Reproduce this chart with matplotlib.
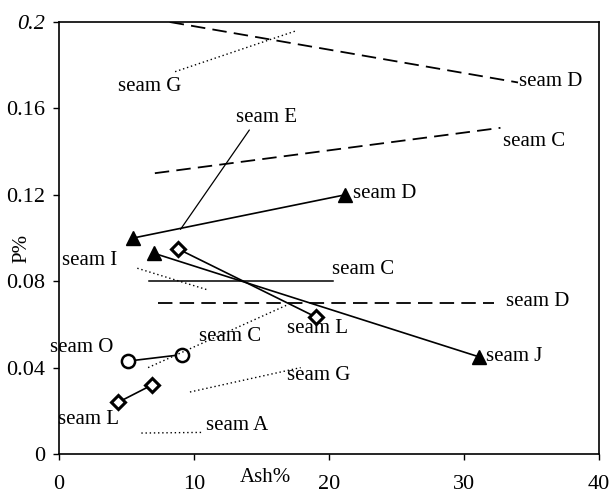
import matplotlib
matplotlib.use("Agg")
import matplotlib.pyplot as plt

plt.rcParams['font.family'] = ['Liberation Serif', 'DejaVu Serif']
plt.rcParams['font.size'] = 15

# seams measured with markers (Ash%, P%)
seam_d_ash = [5.5, 21.2]
seam_d_p = [0.100, 0.120]
seam_j_ash = [7.0, 31.1]
seam_j_p = [0.093, 0.045]
seam_l_ash = [8.8, 19.0]
seam_l_p = [0.095, 0.0635]
seam_o_ash = [5.1, 9.1]
seam_o_p = [0.043, 0.046]
seam_l2_ash = [4.4, 6.9]
seam_l2_p = [0.024, 0.032]

# trend lines without markers
c_solid_ash = [6.7, 20.3]
c_solid_p = [0.080, 0.080]
d_dash_ash = [7.3, 32.2]
d_dash_p = [0.070, 0.070]
c_dash_ash = [7.1, 32.7]
c_dash_p = [0.130, 0.151]
d_top_ash = [8.2, 34.0]
d_top_p = [0.200, 0.172]
g_top_ash = [8.6, 17.6]
g_top_p = [0.177, 0.196]
i_dot_ash = [5.8, 11.0]
i_dot_p = [0.086, 0.076]
c_dot_ash = [6.6, 16.9]
c_dot_p = [0.040, 0.069]
g_dot_ash = [9.7, 17.9]
g_dot_p = [0.0287, 0.040]
a_dot_ash = [6.1, 10.7]
a_dot_p = [0.0097, 0.010]

fig = plt.figure(figsize=(6.12, 4.94), dpi=100)
ax = fig.add_axes([59 / 612, 1 - 454 / 494, 540 / 612, 432 / 494])

dash = (0, (8, 4))
dot = (0, (1, 2))
k = 'black'

ax.plot(seam_d_ash, seam_d_p, color=k, lw=1.2, marker='^', ms=10, mfc=k)
ax.plot(seam_j_ash, seam_j_p, color=k, lw=1.2, marker='^', ms=10, mfc=k)
ax.plot(seam_l_ash, seam_l_p, color=k, lw=1.2, marker='D', ms=7, mfc='white', mew=2.2)
ax.plot(seam_o_ash, seam_o_p, color=k, lw=1.2, marker='o', ms=9.5, mfc='white', mew=1.8)
ax.plot(seam_l2_ash, seam_l2_p, color=k, lw=1.2, marker='D', ms=7, mfc='white', mew=2.2)

ax.plot(c_solid_ash, c_solid_p, color=k, lw=1.1)
ax.plot(d_dash_ash, d_dash_p, color=k, lw=1.3, linestyle=dash)
ax.plot(c_dash_ash, c_dash_p, color=k, lw=1.3, linestyle=dash)
ax.plot(d_top_ash, d_top_p, color=k, lw=1.3, linestyle=dash)
for xs, ys in [(g_top_ash, g_top_p), (i_dot_ash, i_dot_p), (c_dot_ash, c_dot_p),
               (g_dot_ash, g_dot_p), (a_dot_ash, a_dot_p)]:
    ax.plot(xs, ys, color=k, lw=1.0, linestyle=dot)

# seam labels
lab = dict(ha='left', va='center', fontsize=15)
ax.text(34.1, 0.1725, 'seam D', **lab)
ax.text(32.9, 0.1445, 'seam C', **lab)
ax.text(21.8, 0.1205, 'seam D', **lab)
ax.text(20.2, 0.0855, 'seam C', **lab)
ax.text(33.1, 0.0705, 'seam D', **lab)
ax.text(16.9, 0.058, 'seam L', **lab)
ax.text(31.6, 0.045, 'seam J', **lab)
ax.text(16.9, 0.0365, 'seam G', **lab)
ax.text(10.4, 0.0545, 'seam C', **lab)
ax.text(-0.7, 0.0495, 'seam O', **lab)
ax.text(-0.1, 0.0158, 'seam L', **lab)
ax.text(10.9, 0.0133, 'seam A', **lab)
ax.text(0.2, 0.0895, 'seam I', **lab)
ax.text(4.4, 0.170, 'seam G', **lab)

# seam E leader line
ax.text(15.4, 0.156, 'seam E', ha='center', va='center', fontsize=15)
ax.annotate('', xy=(9.0, 0.104), xytext=(14.1, 0.150),
            arrowprops=dict(arrowstyle='-', color=k, lw=0.9, shrinkA=0, shrinkB=0))

ax.set_xlim(0, 40)
ax.set_ylim(0, 0.2)
ax.set_xticks([0, 10, 20, 30, 40])
ax.set_yticks([0, 0.04, 0.08, 0.12, 0.16, 0.2])
ax.set_yticklabels(['0', '0.04', '0.08', '0.12', '0.16', '0.2'])
ax.get_yticklabels()[-1].set_style('italic')
ax.tick_params(direction='out', length=4, width=1, labelsize=16)
ax.tick_params(axis='x', pad=11)
ax.tick_params(axis='y', pad=6)
for s in ax.spines.values():
    s.set_linewidth(1.2)

ax.text(15.3, -0.0065, 'Ash%', ha='center', va='top', fontsize=15,
        transform=ax.transData, clip_on=False)
fig.text(22 / 612, 1 - 248 / 494, 'P%', rotation=90, ha='center', va='center', fontsize=15)

fig.savefig('out.png', dpi=100)
